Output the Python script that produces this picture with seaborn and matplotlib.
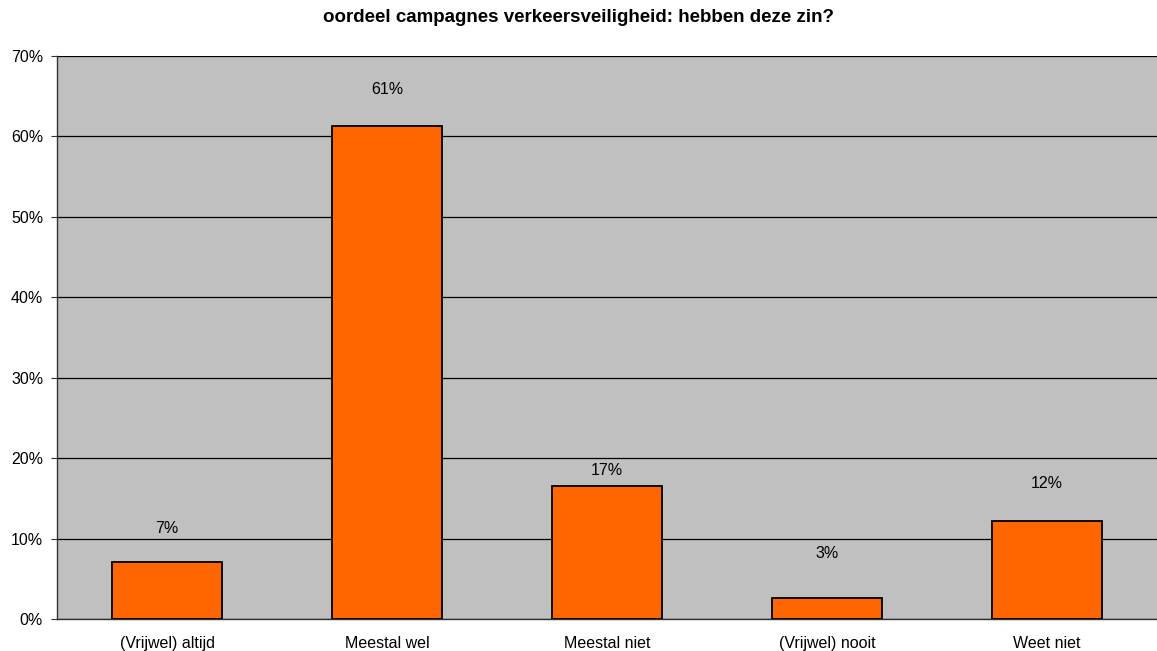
import numpy as np
import pandas as pd
import matplotlib
matplotlib.use("Agg")
import matplotlib.pyplot as plt
import seaborn as sns
from matplotlib.ticker import PercentFormatter, FixedLocator

categories = ["(Vrijwel) altijd", "Meestal wel", "Meestal niet", "(Vrijwel) nooit", "Weet niet"]
values = [7.1, 61.3, 16.6, 2.6, 12.2]
labels = ["7%", "61%", "17%", "3%", "12%"]
title = "oordeel campagnes verkeersveiligheid: hebben deze zin?"

# excel puts the data labels at odd heights, offsets in pixels
label_offsets = [34, 37, 15, 45, 38]

sns.set_style("white")
plt.rcParams["font.family"] = ["Liberation Sans", "DejaVu Sans"]
plt.rcParams["text.color"] = "black"
plt.rcParams["xtick.color"] = "black"
plt.rcParams["ytick.color"] = "black"

df = pd.DataFrame({"cat": categories, "val": values})

fig = plt.figure(figsize=(11.57, 6.51), dpi=100)
ax = fig.add_axes([57 / 1157, (651 - 619.3) / 651, 1100 / 1157, (619.3 - 56) / 651])
ax.set_facecolor("#C0C0C0")

sns.barplot(data=df, x="cat", y="val", color="#FF6600", width=0.5,
            edgecolor="black", linewidth=1.3, saturation=1, ax=ax, zorder=3)

ax.set_xlim(-0.5, 4.5)
ax.set_ylim(0, 70)
ax.yaxis.set_major_locator(FixedLocator(np.arange(0, 71, 10)))
ax.yaxis.set_major_formatter(PercentFormatter(decimals=0))
ax.grid(axis="y", color="black", linewidth=0.9, zorder=1)
ax.set_axisbelow(True)

for i, (v, lab) in enumerate(zip(values, labels)):
    ax.annotate(lab, (i, v), xytext=(0, label_offsets[i]), textcoords="offset pixels",
                ha="center", va="center", fontsize=11.5, color="black", zorder=5)

ax.set_xlabel("")
ax.set_ylabel("")
ax.tick_params(axis="x", which="major", length=0, pad=12, labelsize=11.5)
ax.set_xticks(np.arange(-0.5, 5, 1), minor=True)
ax.tick_params(axis="x", which="minor", length=4, width=0.8, color="#333333", direction="out")
ax.tick_params(axis="y", length=4, width=0.8, color="#333333", direction="out",
               pad=6, labelsize=11.5, left=True)

for side in ["top", "right"]:
    ax.spines[side].set_visible(False)
for side in ["left", "bottom"]:
    ax.spines[side].set_color("#333333")
    ax.spines[side].set_linewidth(1.0)

fig.text(0.5, 1 - 18 / 651, title, ha="center", va="center", fontsize=13.5,
         fontweight="bold", color="black")

fig.savefig("out.png", dpi=100)
